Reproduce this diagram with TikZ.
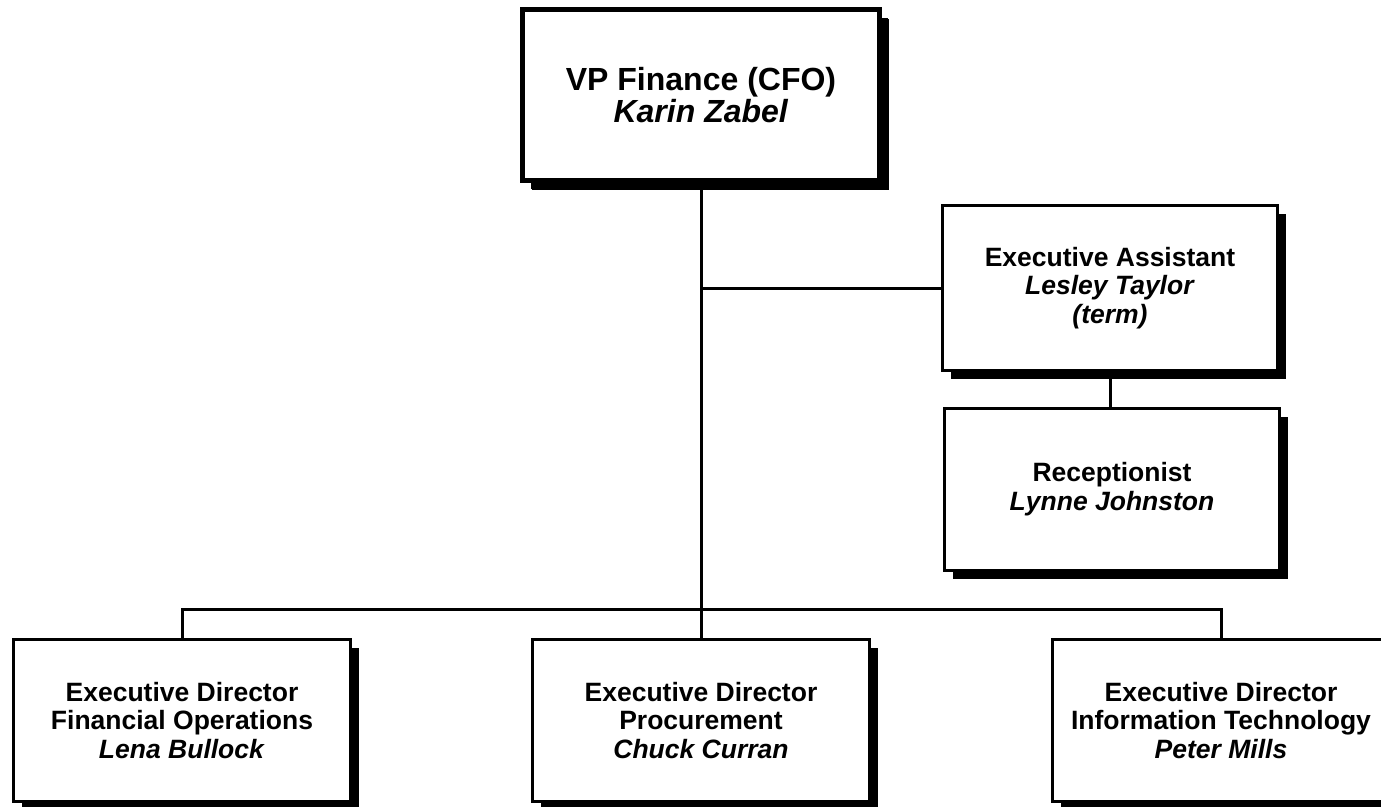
\documentclass[tikz,border=0pt]{standalone}
\usepackage{fontspec}
\setmainfont{Liberation Sans}
\usetikzlibrary{shadows}
\begin{document}
\begin{tikzpicture}[x=1pt,y=-1pt,
  org/.style={draw=black, line width=3pt, fill=white, inner sep=0pt, align=center,
     minimum width=335pt, minimum height=162pt,
     font=\bfseries\fontsize{26.5}{28.5}\selectfont,
     drop shadow={shadow xshift=8.5pt, shadow yshift=-8.5pt, opacity=1, fill=black}},
  topbox/.style={org, line width=5pt, minimum width=357pt, minimum height=171pt,
     font=\bfseries\fontsize{32}{32}\selectfont,
     drop shadow={shadow xshift=9pt, shadow yshift=-9pt, opacity=1, fill=black}},
  conn/.style={line width=3pt}]
\useasboundingbox (0,0) rectangle (1381,806);
\fill[white] (0,0) rectangle (1381,806);

\node[topbox] (cfo) at (701,95) {VP Finance (CFO)\\ \textit{Karin Zabel}};
\node[org, minimum height=165pt] (ea) at (1110,288) {Executive Assistant\\ \textit{Lesley Taylor}\\ \textit{(term)}};
\node[org] (rec) at (1112,489.5) {Receptionist\\[0.5pt] \textit{Lynne Johnston}};
\node[org, minimum width=337pt] (fo) at (182,720.5) {Executive Director\\ Financial Operations\\ \textit{Lena Bullock}};
\node[org, minimum width=337pt] (proc) at (701,720.5) {Executive Director\\ Procurement\\ \textit{Chuck Curran}};
\node[org, minimum width=337pt] (it) at (1221,720.5) {Executive Director\\ Information Technology\\ \textit{Peter Mills}};

\coordinate (bus) at (701,609);
\draw[conn] (cfo.south) -- (proc.north);
\draw[conn] (cfo.south |- ea.west) -- (ea.west);
\draw[conn] (ea.south) -- (ea.south |- rec.north);
\draw[conn] (fo.north) |- (bus) -| (it.north);
\end{tikzpicture}
\end{document}
